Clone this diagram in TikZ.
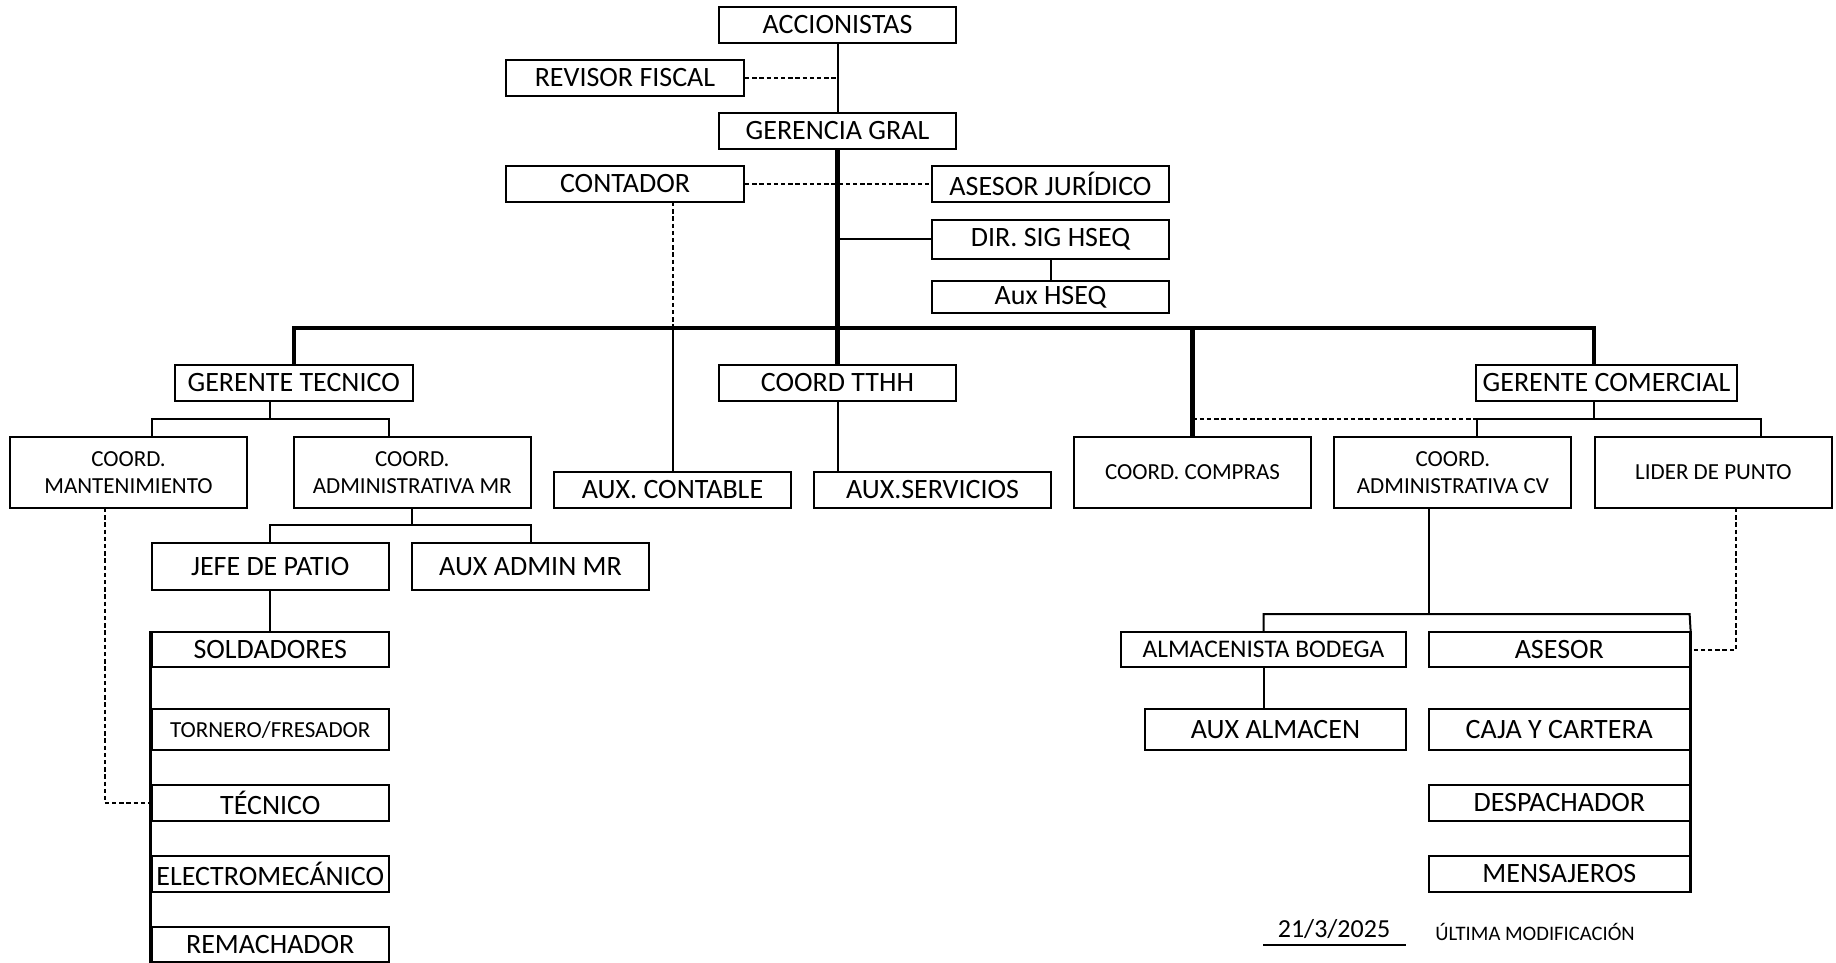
\documentclass[tikz,border=0pt]{standalone}
\usepackage{fontspec}
\setmainfont{Carlito}
\begin{document}
\begin{tikzpicture}[x=0.5pt,y=-0.5pt,
  box/.style={draw, line width=1pt, inner sep=0pt, font=\fontsize{14}{16}\selectfont, align=center},
  sbox/.style={box, font=\fontsize{11.5}{13.5}\selectfont},
  thin/.style={line width=1pt},
  thick/.style={line width=2.1pt},
  dots/.style={line width=1pt, dash pattern=on 2.2pt off 1.4pt}]
\useasboundingbox (0,0) rectangle (1836,963);
\fill[white] (0,0) rectangle (1836,963);
% --- top ---
\node[box, minimum width=118.5pt, minimum height=18pt] (acc) at (837.5,25) {ACCIONISTAS};
\node[box, minimum width=119pt, minimum height=18pt] (rev) at (625,78) {REVISOR FISCAL};
\node[box, minimum width=118.5pt, minimum height=18pt] (ger) at (837.5,131) {GERENCIA GRAL};
\node[box, minimum width=119pt, minimum height=18pt] (cont) at (625,184) {CONTADOR};
\node[box, minimum width=118.5pt, minimum height=18pt] (jur) at (1050.5,184) {ASESOR JURÍDICO};
\node[box, minimum width=118.5pt, minimum height=19.5pt] (dir) at (1050.5,239) {DIR. SIG HSEQ};
\node[box, minimum width=118.5pt, minimum height=16pt] (auxh) at (1050.5,297) {Aux HSEQ};
% --- second level ---
\node[box, minimum width=118.75pt, minimum height=18pt] (gt) at (293.75,383) {GERENTE TECNICO};
\node[box, minimum width=118.5pt, minimum height=18pt] (tthh) at (837.5,383) {COORD TTHH};
\node[box, minimum width=130.5pt, minimum height=18pt] (gc) at (1606.5,383) {GERENTE COMERCIAL};
% --- third level ---
\node[sbox, minimum width=118.5pt, minimum height=35.5pt] (mant) at (128.5,472.5) {COORD.\\MANTENIMIENTO};
\node[sbox, minimum width=118.75pt, minimum height=35.5pt] (admr) at (412.25,472.5) {COORD.\\ADMINISTRATIVA MR};
\node[box, minimum width=118.5pt, minimum height=18pt] (auxc) at (672.5,490) {AUX. CONTABLE};
\node[box, minimum width=118.5pt, minimum height=18pt] (auxs) at (932.5,490) {AUX.SERVICIOS};
\node[sbox, minimum width=118.5pt, minimum height=35.5pt] (comp) at (1192.5,472.5) {COORD. COMPRAS};
\node[sbox, minimum width=118.5pt, minimum height=35.5pt] (adcv) at (1452.85,472.5) {COORD.\\ADMINISTRATIVA CV};
\node[sbox, minimum width=118.65pt, minimum height=35.5pt] (lid) at (1713.35,472.5) {LIDER DE PUNTO};
% --- technical branch ---
\node[box, minimum width=118.75pt, minimum height=23.5pt] (jefe) at (270.25,566.5) {JEFE DE PATIO};
\node[box, minimum width=118.5pt, minimum height=23.5pt] (auxmr) at (530.5,566.5) {AUX ADMIN MR};
\node[box, minimum width=118.75pt, minimum height=17.5pt] (sold) at (270.25,649.5) {SOLDADORES};
\node[sbox, minimum width=118.75pt, minimum height=20.5pt] (torn) at (270.25,729.5) {TORNERO/FRESADOR};
\node[box, minimum width=118.75pt, minimum height=18pt] (tec) at (270.25,803) {TÉCNICO};
\node[box, minimum width=118.75pt, minimum height=18pt] (elec) at (270.25,874) {ELECTROMECÁNICO};
\node[box, minimum width=118.75pt, minimum height=17.5pt] (rem) at (270.25,944.5) {REMACHADOR};
% --- commercial branch ---
\node[box, minimum width=142.5pt, minimum height=17.5pt, font=\fontsize{12.7}{14}\selectfont] (alm) at (1263.5,649.5) {ALMACENISTA BODEGA};
\node[box, minimum width=130.5pt, minimum height=20.5pt] (auxa) at (1275.5,729.5) {AUX ALMACEN};
\node[box, minimum width=130.3pt, minimum height=17.5pt] (ases) at (1559.3,649.5) {ASESOR};
\node[box, minimum width=130.3pt, minimum height=20.5pt] (caja) at (1559.3,729.5) {CAJA Y CARTERA};
\node[box, minimum width=130.3pt, minimum height=18pt] (desp) at (1559.3,803) {DESPACHADOR};
\node[box, minimum width=130.3pt, minimum height=18pt] (mens) at (1559.3,874) {MENSAJEROS};
% --- footer ---
\node[font=\fontsize{13}{15}\selectfont, inner sep=0pt] (date) at (1334,929) {21/3/2025};
\coordinate (dateL) at (1263,945);
\coordinate (dateR) at (1406,945);
\draw[thin] (dateL) -- (dateR);
\node[font=\fontsize{10.3}{12}\selectfont, inner sep=0pt] (ultima) at (1535,932) {ÚLTIMA MODIFICACIÓN};
% --- coordinates ---
\coordinate (busL) at (gt.north |- 0,328);
\coordinate (busR) at (1594,328);
\coordinate (busM) at (ger.south |- 0,328);
\coordinate (busC) at (comp.north |- 0,328);
\coordinate (revJ) at (ger.north |- rev.east);
\coordinate (dirJ) at (ger.south |- dir.west);
\coordinate (contB) at (672.5,202);
\coordinate (contBus) at (contB |- busM);
\coordinate (gtM) at (270,419);
\coordinate (gtL) at (151.5,419);
\coordinate (gtR) at (389,419);
\coordinate (mrM) at (412.25,525);
\coordinate (mrL) at (270.25,525);
\coordinate (mrR) at (530.5,525);
\coordinate (gcM) at (1594,419);
\coordinate (gcL) at (1477,419);
\coordinate (gcR) at (1760.6,419);
\coordinate (cvT) at (1429,508);
\coordinate (cvM) at (1429,614);
\coordinate (cvL) at (1263.5,614);
\coordinate (cvR) at (1689.6,614);
\coordinate (mantT) at (104.6,508);
\coordinate (mantB) at (104.6,803);
\coordinate (lidT) at (1736.4,508);
\coordinate (lidB) at (1736.4,649.5);
% --- connectors ---
\draw[thin] (acc.south) -- (ger.north);
\draw[dots] (rev.east) -- (revJ);
\draw[dots] (cont.east) -- (jur.west);
\draw[thick] (ger.south) -- (busM);
\draw[thin] (dirJ) -- (dir.west);
\draw[thin] (dir.south) -- (auxh.north);
\draw[thick] (gt.north) -- (busL) -- (busR) -- (busR |- gc.north);
\draw[thick] (busM) -- (tthh.north);
\draw[thick] (busC) -- (comp.north);
\draw[dots] (contB) -- (contBus);
\draw[thin] (contBus) -- (auxc.north);
\draw[thin] (tthh.south) -- (tthh.south |- auxs.north);
% technical branch
\draw[thin] (gt.south -| gtM) -- (gtM);
\draw[thin] (mant.north -| gtL) -- (gtL) -- (gtR) -- (admr.north -| gtR);
\draw[thin] (admr.south) -- (mrM);
\draw[thin] (jefe.north) -- (mrL) -- (mrR) -- (auxmr.north);
\draw[thin] (jefe.south) -- (sold.north);
\draw[line width=1.2pt] (sold.north west) -- (rem.south west);
\draw[dots] (mantT) -- (mantB) -- (tec.west);
% commercial branch
\draw[thin] (gc.south -| gcM) -- (gcM);
\draw[thin] (adcv.north -| gcL) -- (gcL) -- (gcR) -- (lid.north -| gcR);
\draw[dots] (busC |- gcL) -- (gcL);
\draw[thin] (cvT) -- (cvM);
\draw[thin] (alm.north) -- (cvL) -- (cvR) -- (ases.north east);
\draw[line width=1.2pt] (ases.north east) -- (mens.south east);
\draw[thin] (alm.south -| auxa.north) ++(-12,0) coordinate (almB) -- (almB |- auxa.north);
\draw[dots] (lidT) -- (lidB) -- (ases.east);
\end{tikzpicture}
\end{document}
